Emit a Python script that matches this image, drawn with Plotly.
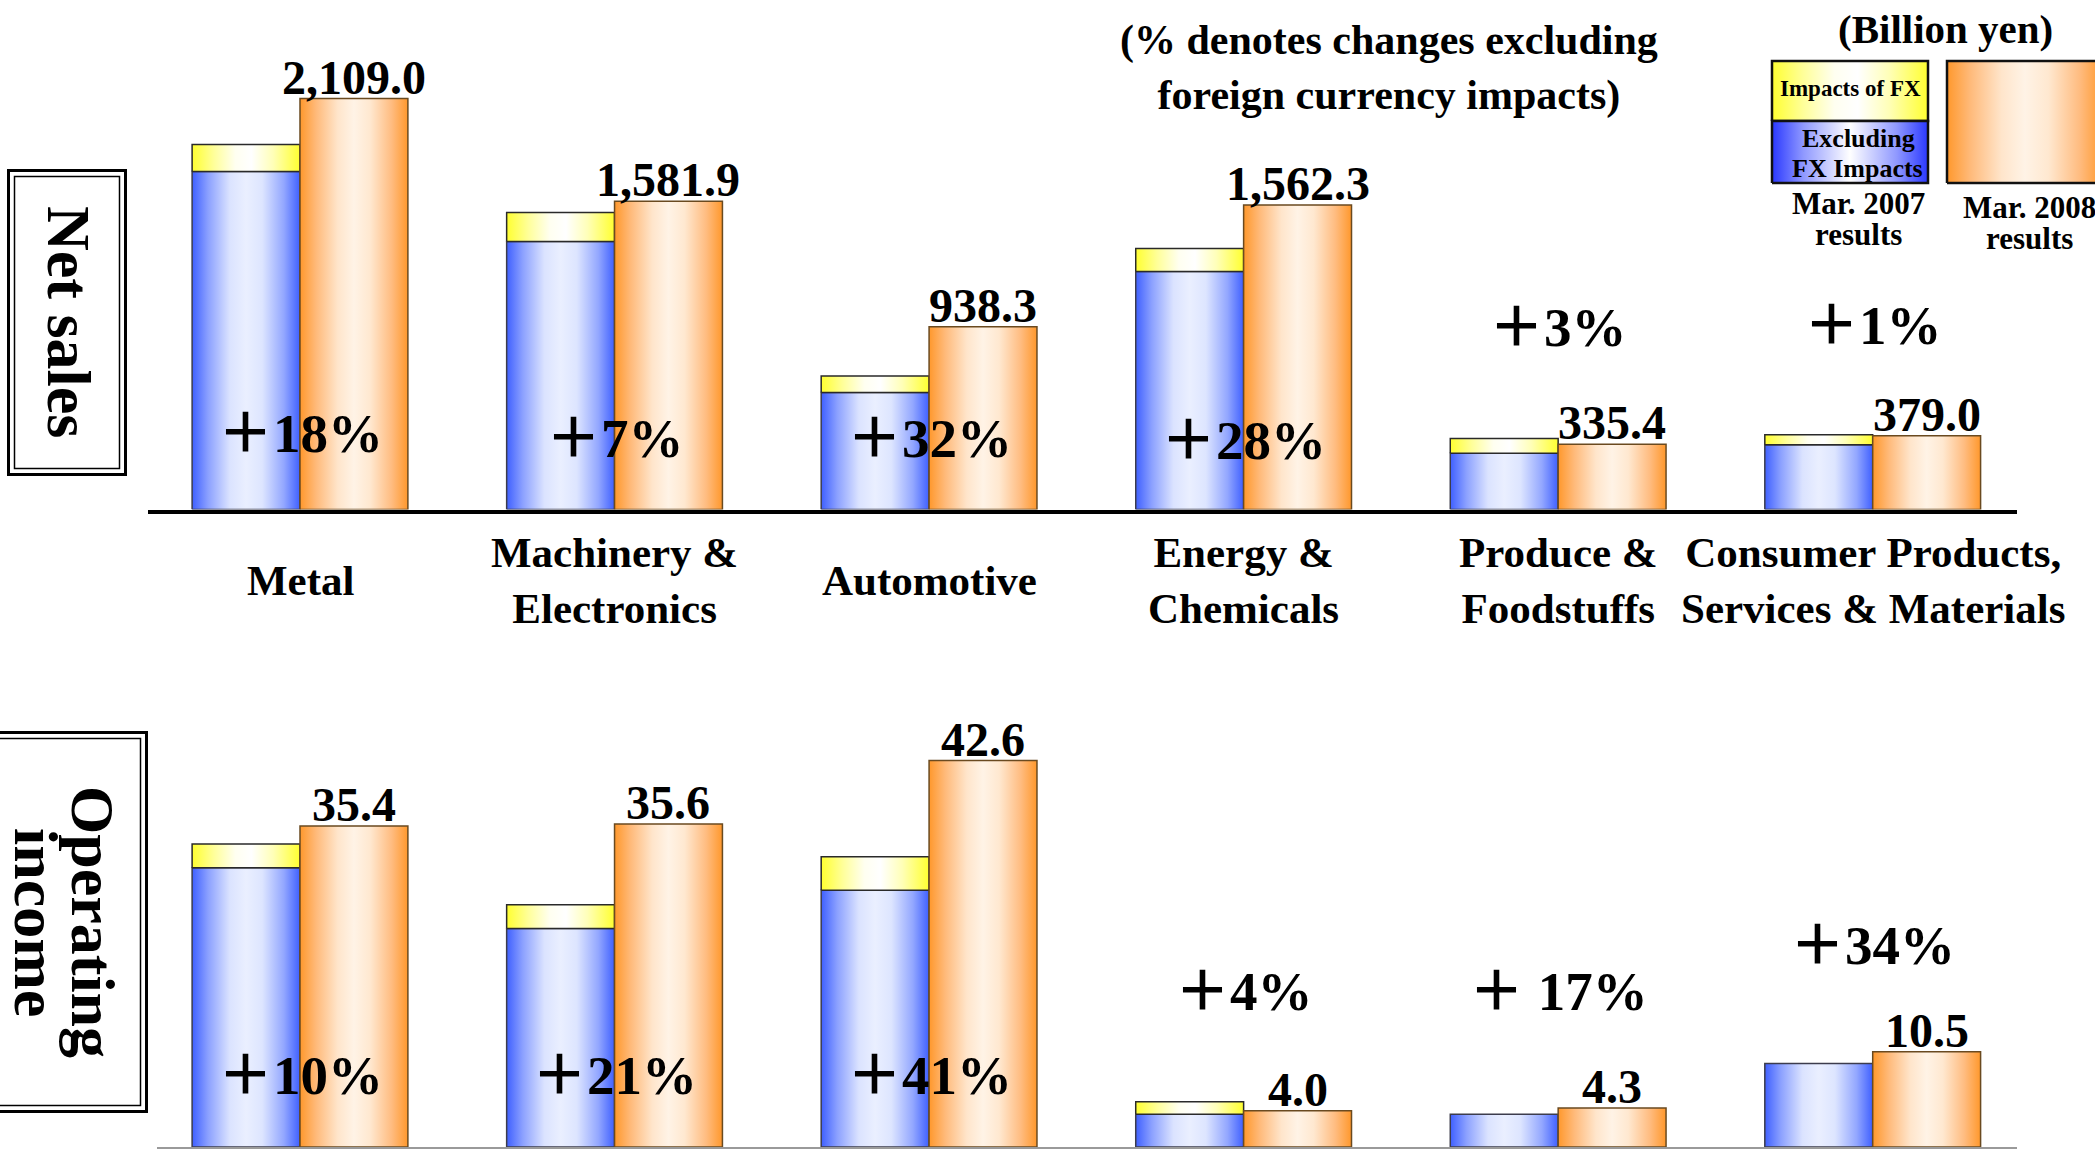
import plotly.graph_objects as go

W, H = 2095, 1149

# ---- data (billion yen) ----
segments = [
    "Metal",
    "Machinery &<br>Electronics",
    "Automotive",
    "Energy &<br>Chemicals",
    "Produce &<br>Foodstuffs",
    "Consumer Products,<br>Services & Materials",
]

# Net sales
sales_2007_ex_fx = [1734, 1375, 600, 1221, 288, 332]   # Mar. 2007, excluding FX impacts
sales_2007_fx = [139, 149, 85, 118, 76, 51]            # Mar. 2007, impacts of FX
sales_2008 = [2109.0, 1581.9, 938.3, 1562.3, 335.4, 379.0]
sales_change = ["＋18%", "＋7%", "＋32%", "＋28%", "＋3%", "＋1%"]

# Operating income
op_2007_ex_fx = [30.8, 24.1, 28.3, 3.6, 3.6, 9.2]
op_2007_fx = [2.6, 2.6, 3.7, 1.4, 0.0, 0.0]
op_2008 = [35.4, 35.6, 42.6, 4.0, 4.3, 10.5]
op_change = ["＋10%", "＋21%", "＋41%", "＋4%", "＋ 17%", "＋34%"]

# ---- styling ----
SERIF = "Liberation Serif, Times New Roman, serif"
PLUS_FONT = "Liberation Serif, Noto Sans CJK JP, serif"

BLUE = [[0, "#3f60ff"], [0.15, "#8ca1ff"], [0.35, "#dbe3ff"], [0.5, "#eaefff"],
        [0.65, "#dde5ff"], [0.85, "#93a7ff"], [1, "#3f60ff"]]
ORANGE = [[0, "#ff982c"], [0.15, "#ffba7a"], [0.35, "#ffe5cb"], [0.5, "#fff3e6"],
          [0.65, "#ffe8d0"], [0.85, "#ffbc80"], [1, "#ff982c"]]
YELLOW = [[0, "#ffff30"], [0.2, "#ffff99"], [0.4, "#fffff0"], [0.55, "#ffffff"],
          [0.75, "#ffffb8"], [1, "#ffff30"]]
BLUE_KEY = [[0, "#2a38ff"], [0.2, "#8f98ff"], [0.5, "#ffffff"], [0.8, "#8f98ff"], [1, "#2a38ff"]]

BW = 0.343                      # width of one bar, in category units
STEP_PX, ORIGIN_PX = 314.54, 300.0   # pixel spacing of categories / first category centre


def xr(px0, px1):
    """category-axis range for a domain spanning pixels px0..px1"""
    return [(px0 - ORIGIN_PX) / STEP_PX, (px1 - ORIGIN_PX) / STEP_PX]


def pxx(x):
    return x / W


def pxy(y):
    return 1 - y / H


fig = go.Figure()


def add_block(x0, x1, y0, y1, scale, line_color, xa, ya, lw=1.5):
    fig.add_trace(go.Scatter(
        x=[x0, x0, x1, x1, x0], y=[y0, y1, y1, y0, y0],
        mode="lines", fill="toself",
        fillgradient=dict(type="horizontal", colorscale=scale),
        line=dict(color=line_color, width=lw),
        hoverinfo="skip", showlegend=False, xaxis=xa, yaxis=ya,
    ))


def add_panel(ex_fx, fx, cur, xa, ya):
    for i in range(len(segments)):
        # Mar. 2007: excluding FX (blue) + FX impact (yellow) stacked
        add_block(i - BW, i, 0, ex_fx[i], BLUE, "#3c3c4c", xa, ya)
        if fx[i] > 0:
            add_block(i - BW, i, ex_fx[i], ex_fx[i] + fx[i], YELLOW, "#2a2a2a", xa, ya)
        # Mar. 2008
        add_block(i, i + BW, 0, cur[i], ORANGE, "#6a4a20", xa, ya)


add_panel(sales_2007_ex_fx, sales_2007_fx, sales_2008, "x", "y")
add_panel(op_2007_ex_fx, op_2007_fx, op_2008, "x2", "y2")

# legend swatches, drawn on a pixel-based overlay
add_block(1772, 1928, 121, 61, YELLOW, "#111111", "x3", "y3", lw=2.5)
add_block(1772, 1928, 183, 121, BLUE_KEY, "#111111", "x3", "y3", lw=2.5)
add_block(1947, 2103, 183, 61, ORANGE, "#111111", "x3", "y3", lw=2.5)

annotations = []


def note(text, x, y, size, xref="paper", yref="paper", font=SERIF, **kw):
    d = dict(text=text, x=x, y=y, xref=xref, yref=yref, showarrow=False,
             xanchor="center", yanchor="middle",
             font=dict(family=font, size=size, color="black", weight="bold"))
    d.update(kw)
    annotations.append(d)


# value labels above the Mar. 2008 bars
for i, v in enumerate(sales_2008):
    note(f"{v:,.1f}", i + BW / 2, v, 48, xref="x", yref="y", yanchor="bottom", yshift=-7)
for i, v in enumerate(op_2008):
    note(f"{v:,.1f}", i + BW / 2, v, 48, xref="x2", yref="y2", yanchor="bottom", yshift=-7)

# change labels
sales_pct_y = [433, 438, 438, 440, 327, 325]
op_pct_y = [1075, 1075, 1075, 991, 991, 945]
for i, t in enumerate(sales_change):
    note(t, i, pxy(sales_pct_y[i]), 55, xref="x", font=PLUS_FONT)
for i, t in enumerate(op_change):
    note(t, i, pxy(op_pct_y[i]), 55, xref="x2", font=PLUS_FONT)

# segment names
for i, s in enumerate(segments):
    note(s, i, pxy(580), 43, xref="x")

# panel titles
note("Net sales", pxx(69), pxy(322), 62, textangle=90)
note("Operating", pxx(93), pxy(922), 62, textangle=90)
note("income", pxx(36), pxy(922), 62, textangle=90)

# header texts
note("(% denotes changes excluding<br>foreign currency impacts)", pxx(1389), pxy(68), 42)
note("(Billion yen)", pxx(1945), pxy(29), 41)
note("Impacts of FX", pxx(1850), pxy(88), 23)
note("Excluding", pxx(1858), pxy(138), 26)
note("FX Impacts", pxx(1857), pxy(168), 26)
note("Mar. 2007", pxx(1858), pxy(203), 31)
note("results", pxx(1858), pxy(234), 31)
note("Mar. 2008", pxx(2029), pxy(207), 31)
note("results", pxx(2029), pxy(238), 31)

# framed title boxes (double rule)
shapes = []
for (x0, y0, x1, y1) in [(8.5, 170.5, 125.5, 474.5), (-10, 732.5, 146.5, 1111.5)]:
    shapes.append(dict(type="rect", xref="paper", yref="paper",
                       x0=pxx(x0), x1=pxx(x1), y0=pxy(y0), y1=pxy(y1),
                       line=dict(color="black", width=3), fillcolor="rgba(0,0,0,0)"))
    shapes.append(dict(type="rect", xref="paper", yref="paper",
                       x0=pxx(x0 + 6), x1=pxx(x1 - 6), y0=pxy(y0 + 6), y1=pxy(y1 - 6),
                       line=dict(color="black", width=1.5), fillcolor="rgba(0,0,0,0)"))

TOP_BASE = 509.5
SALES_PER_PX = 2109.0 / 411
BOT_BASE, BOT_TOP = 1147, 574.5
OP_PX_PER_UNIT = 9.07

hidden = dict(visible=False, showgrid=False, zeroline=False, fixedrange=True)

fig.update_layout(
    width=W, height=H, autosize=False,
    margin=dict(l=0, r=0, t=0, b=0, pad=0),
    paper_bgcolor="white", plot_bgcolor="rgba(0,0,0,0)",
    showlegend=False,
    xaxis=dict(domain=[pxx(148), pxx(2017)], range=xr(148, 2017), anchor="y",
               showline=True, linecolor="black", linewidth=4, showgrid=False,
               zeroline=False, showticklabels=False, ticks="", fixedrange=True),
    yaxis=dict(domain=[pxy(TOP_BASE), 1], range=[0, TOP_BASE * SALES_PER_PX], anchor="x", **hidden),
    xaxis2=dict(domain=[pxx(157), pxx(2017)], range=xr(157, 2017), anchor="y2",
                showline=True, linecolor="#9a9a9a", linewidth=2, showgrid=False,
                zeroline=False, showticklabels=False, ticks="", fixedrange=True),
    yaxis2=dict(domain=[pxy(BOT_BASE), pxy(BOT_TOP)],
                range=[0, (BOT_BASE - BOT_TOP) / OP_PX_PER_UNIT], anchor="x2", **hidden),
    xaxis3=dict(domain=[0, 1], range=[0, W], anchor="y3", **hidden),
    yaxis3=dict(domain=[0, 1], range=[H, 0], anchor="x3", **hidden),
    annotations=annotations,
    shapes=shapes,
)

fig.write_html("out.html")
